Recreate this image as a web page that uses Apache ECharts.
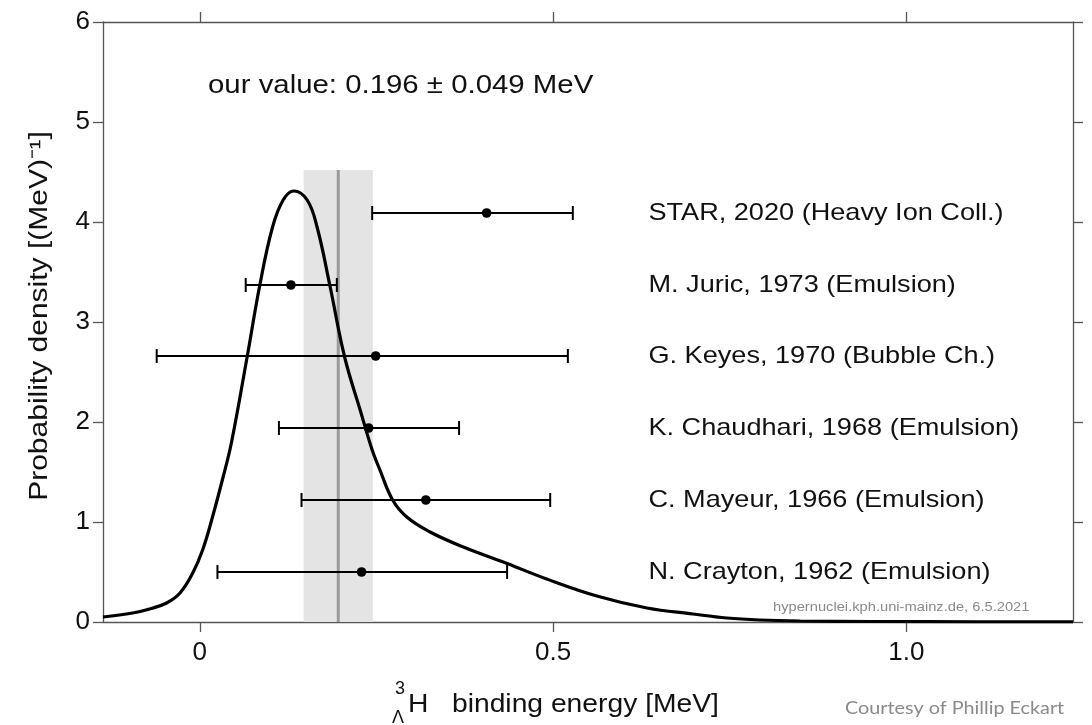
<!DOCTYPE html>
<html>
<head>
<meta charset="utf-8">
<script src="https://cdn.jsdelivr.net/npm/echarts@6/dist/echarts.min.js"></script>
<style>
html,body{margin:0;padding:0;background:#fff;}
#chart{width:1092px;height:725px;}
</style>
</head>
<body>
<div id="chart"></div>
<script>
// ---- data ----
var curveX = [-0.137, -0.095, -0.071, -0.047, -0.028, -0.010, 0.004, 0.018, 0.033, 0.045, 0.067, 0.085, 0.103, 0.118, 0.133, 0.152, 0.166, 0.184, 0.205, 0.227, 0.244, 0.255, 0.273, 0.293, 0.326, 0.373, 0.435, 0.491, 0.562, 0.633, 0.698, 0.746, 0.793, 0.85, 0.95, 1.1, 1.236];
var curveY = [0.05, 0.09, 0.13, 0.19, 0.29, 0.49, 0.72, 1.05, 1.45, 1.80, 2.65, 3.37, 3.95, 4.22, 4.31, 4.22, 3.95, 3.37, 2.65, 2.12, 1.72, 1.52, 1.22, 1.05, 0.90, 0.75, 0.585, 0.43, 0.26, 0.14, 0.08, 0.04, 0.02, 0.01, 0.005, 0.002, 0.001];

var expLabels = ['STAR, 2020 (Heavy Ion Coll.)', 'M. Juric, 1973 (Emulsion)', 'G. Keyes, 1970 (Bubble Ch.)', 'K. Chaudhari, 1968 (Emulsion)', 'C. Mayeur, 1966 (Emulsion)', 'N. Crayton, 1962 (Emulsion)'];
var expValue = [0.406, 0.129, 0.249, 0.239, 0.320, 0.229];
var expLow   = [0.244, 0.065, -0.061, 0.112, 0.144, 0.025];
var expHigh  = [0.528, 0.194, 0.521, 0.367, 0.496, 0.435];
var expRow   = [4.09, 3.37, 2.66, 1.94, 1.22, 0.50];
var labelX = 0.635;

var ourValue = 0.196;
var ourErr = 0.049;
var bandTop = 4.52;

var xTicks = [0, 0.5, 1.0];
var xTickLabels = ['0', '0.5', '1.0'];
var xMin = -0.137, xMax = 1.236;
var yMin = 0, yMax = 6, yStep = 1;

// ---- build ----
var curveData = curveX.map(function (x, i) { return [x, curveY[i]]; });
var expData = expValue.map(function (v, i) { return [v, expLow[i], expHigh[i], expRow[i], i]; });
var labelData = expLabels.map(function (t, i) { return [labelX, expRow[i], i]; });

var FONT = '"Liberation Sans", Arial, sans-serif';
var SX = 1.13; // horizontal stretch of the reference lettering
var chart = echarts.init(document.getElementById('chart'), null, {renderer: 'canvas'});

var axisLineStyle = {color: '#555', width: 1.3};

var option = {
  animation: false,
  backgroundColor: '#fff',
  grid: {left: 103, right: 19, top: 22, bottom: 103, containLabel: false},
  xAxis: [
    {
      type: 'value', position: 'bottom', min: xMin, max: xMax,
      axisLine: {show: true, onZero: false, lineStyle: axisLineStyle},
      axisTick: {show: true, inside: false, length: 10, customValues: xTicks, lineStyle: axisLineStyle},
      axisLabel: {show: true, customValues: xTicks, margin: 18, fontSize: 26, color: '#111', fontFamily: FONT,
        formatter: function (v) { var i = xTicks.indexOf(v); return i >= 0 ? xTickLabels[i] : ''; }},
      splitLine: {show: false}
    },
    {
      type: 'value', position: 'top', min: xMin, max: xMax,
      axisLine: {show: true, onZero: false, lineStyle: axisLineStyle},
      axisTick: {show: true, inside: false, length: 10, customValues: xTicks, lineStyle: axisLineStyle},
      axisLabel: {show: false},
      splitLine: {show: false}
    }
  ],
  yAxis: [
    {
      type: 'value', position: 'left', min: yMin, max: yMax, interval: yStep,
      axisLine: {show: true, onZero: false, lineStyle: axisLineStyle},
      axisTick: {show: true, inside: false, length: 10, lineStyle: axisLineStyle},
      axisLabel: {show: true, margin: 13, fontSize: 26, color: '#111', fontFamily: FONT},
      splitLine: {show: false}
    },
    {
      type: 'value', position: 'right', min: yMin, max: yMax, interval: yStep,
      axisLine: {show: true, onZero: false, lineStyle: axisLineStyle},
      axisTick: {show: true, inside: false, length: 10, lineStyle: axisLineStyle},
      axisLabel: {show: false},
      splitLine: {show: false}
    }
  ],
  series: [
    {
      // uncertainty band and central value
      type: 'custom', z: 1, silent: true,
      data: [[ourValue, ourErr, bandTop]],
      renderItem: function (params, api) {
        var v = api.value(0), e = api.value(1), top = api.value(2);
        var p0 = api.coord([v - e, top]);
        var p1 = api.coord([v + e, 0]);
        var c0 = api.coord([v, top]);
        var c1 = api.coord([v, 0]);
        return {
          type: 'group',
          children: [
            {type: 'rect', shape: {x: p0[0], y: p0[1], width: p1[0] - p0[0], height: p1[1] - p0[1]}, style: {fill: '#e4e4e4'}},
            {type: 'line', shape: {x1: c0[0], y1: c0[1], x2: c1[0], y2: c1[1]}, style: {stroke: '#9a9a9a', lineWidth: 3}}
          ]
        };
      }
    },
    {
      type: 'line', z: 3, data: curveData, smooth: 0.4,
      showSymbol: false, symbol: 'none', silent: true,
      lineStyle: {color: '#000', width: 3.2}
    },
    {
      // experimental points with horizontal error bars
      type: 'custom', z: 4, silent: true,
      data: expData,
      renderItem: function (params, api) {
        var v = api.value(0), lo = api.value(1), hi = api.value(2), row = api.value(3);
        var pl = api.coord([lo, row]);
        var ph = api.coord([hi, row]);
        var pv = api.coord([v, row]);
        var cap = 7;
        return {
          type: 'group',
          children: [
            {type: 'line', shape: {x1: pl[0], y1: pl[1], x2: ph[0], y2: ph[1]}, style: {stroke: '#000', lineWidth: 2}},
            {type: 'line', shape: {x1: pl[0], y1: pl[1] - cap, x2: pl[0], y2: pl[1] + cap}, style: {stroke: '#000', lineWidth: 2}},
            {type: 'line', shape: {x1: ph[0], y1: ph[1] - cap, x2: ph[0], y2: ph[1] + cap}, style: {stroke: '#000', lineWidth: 2}},
            {type: 'circle', shape: {cx: pv[0], cy: pv[1], r: 4.8}, style: {fill: '#000'}}
          ]
        };
      }
    },
    {
      // experiment names
      type: 'custom', z: 5, silent: true,
      data: labelData,
      renderItem: function (params, api) {
        var p = api.coord([api.value(0), api.value(1)]);
        return {
          type: 'text', x: p[0], y: p[1], scaleX: SX,
          style: {text: expLabels[api.value(2)], fill: '#111', font: '24px ' + FONT, align: 'left', verticalAlign: 'middle'}
        };
      }
    }
  ],
  graphic: [
    {type: 'text', x: 208, y: 86, scaleX: SX, silent: true,
      style: {text: 'our value: 0.196 \u00b1 0.049 MeV', fill: '#111', font: '26px ' + FONT, align: 'left', verticalAlign: 'middle'}},
    {type: 'text', x: 40, y: 316, rotation: Math.PI / 2, scaleX: 1.2, silent: true,
      style: {text: 'Probability density [(MeV)\u207b\u00b9]', fill: '#111', font: '25px ' + FONT, align: 'center', verticalAlign: 'middle'}},
    {type: 'text', x: 395, y: 698, silent: true,
      style: {text: '3', fill: '#111', font: '18px ' + FONT, align: 'left', verticalAlign: 'bottom'}},
    {type: 'text', x: 392, y: 709, silent: true,
      style: {text: '\u039b', fill: '#111', font: '18px ' + FONT, align: 'left', verticalAlign: 'top'}},
    {type: 'text', x: 408, y: 705, scaleX: SX, silent: true,
      style: {text: 'H   binding energy [MeV]', fill: '#111', font: '25px ' + FONT, align: 'left', verticalAlign: 'middle'}},
    {type: 'text', x: 845, y: 708, scaleX: 1.1, silent: true,
      style: {text: 'Courtesy of Phillip Eckart', fill: '#8a8a8a', font: '18px Lato, "Open Sans", sans-serif', align: 'left', verticalAlign: 'middle'}},
    {type: 'text', x: 773, y: 607, scaleX: SX, silent: true,
      style: {text: 'hypernuclei.kph.uni-mainz.de, 6.5.2021', fill: '#8a8a8a', font: '13px ' + FONT, align: 'left', verticalAlign: 'middle'}}
  ]
};
chart.setOption(option);
</script>
</body>
</html>
